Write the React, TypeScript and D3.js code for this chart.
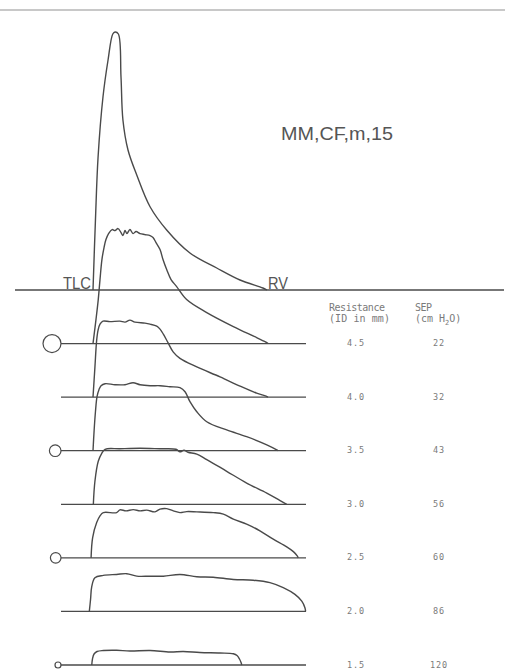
import * as d3 from "d3";

// flow-volume curves: volume in % of VC from TLC (0) to RV (100), flow in L/s
const CURVE_OPEN: [number, number][] = [
  [0, 0], [1.4, 2.8], [2.9, 5.32], [5.7, 7.72], [8.6, 9.2], [11.3, 10.24], [12.6, 10.32],
  [14.5, 10.24], [16, 8.52], [17.1, 6.8], [20, 5.6], [25, 4.6], [32.6, 3.33], [42.1, 2.4],
  [55.4, 1.48], [70.7, 0.88], [84, 0.4], [97.1, 0.08], [99.4, 0],
];
const CURVE_45: [number, number][] = [
  [0, 0], [1.7, 0.96], [3, 1.76], [4, 2.56], [5.1, 3.36], [6.3, 3.84], [7.4, 4.16], [8.9, 4.4],
  [10.9, 4.56], [12.6, 4.52], [14.3, 4.6], [16, 4.44], [17.1, 4.32], [18.3, 4.52], [19.4, 4.4],
  [21.1, 4.56], [22.9, 4.4], [24.6, 4.48], [26.9, 4.4], [29.7, 4.36], [32.6, 4.32], [34.3, 4.24],
  [36, 4.04], [38.3, 3.76], [40, 3.36], [42.1, 2.96], [44.6, 2.56], [47.8, 2.28], [53.5, 1.76],
  [65, 1.24], [80.2, 0.68], [93.5, 0.24], [99.3, 0.04], [100, 0],
];
const CURVE_40: [number, number][] = [
  [0, 0], [1.1, 1.2], [2.1, 2.28], [2.9, 2.68], [4, 2.92], [5.7, 3.04], [9.7, 3.02], [15.4, 3.04],
  [18.3, 3.0], [21.1, 3.08], [24, 3.0], [29.7, 2.96], [32.6, 2.92], [36.4, 2.84], [38.3, 2.72],
  [40.2, 2.52], [43, 2.16], [45.9, 1.8], [49.7, 1.55], [59.3, 1.21], [72.6, 0.81], [84, 0.44],
  [93.5, 0.16], [98.9, 0.04], [100, 0],
];
const CURVE_35: [number, number][] = [
  [0, 0], [0.6, 0.76], [1.4, 1.56], [2.3, 2.16], [3.4, 2.44], [4.6, 2.6], [6.9, 2.68], [12.6, 2.64],
  [18.3, 2.64], [22.9, 2.72], [26.9, 2.64], [32.6, 2.6], [38.3, 2.6], [44, 2.56], [49.7, 2.52],
  [52.6, 2.36], [55.4, 1.96], [59.3, 1.56], [65, 1.16], [76.4, 0.83], [87.8, 0.56], [99.3, 0.23],
  [105, 0.03], [105.7, 0],
];
const CURVE_30: [number, number][] = [
  [0.2, 0], [1.1, 0.92], [3, 1.72], [5, 2.04], [6.9, 2.2], [15.4, 2.22], [26.9, 2.24], [38.3, 2.22],
  [47.4, 2.2], [49.7, 2.1], [52, 2.16], [54.3, 2.08], [59.3, 2.01], [65, 1.79], [76.4, 1.32],
  [87.8, 0.85], [99.3, 0.45], [106.9, 0.15], [110.7, 0],
];
const CURVE_25: [number, number][] = [
  [-1.1, 0], [-0.2, 0.81], [2.1, 1.41], [4, 1.68], [5.9, 1.81], [13.5, 1.81], [15.4, 1.92],
  [18.9, 1.88], [23, 1.93], [26.9, 1.88], [30.7, 1.91], [35.4, 1.84], [38.3, 1.95], [42.1, 1.97],
  [45.9, 1.88], [49.7, 1.81], [53.5, 1.85], [59.3, 1.84], [68.7, 1.81], [74.5, 1.75], [80.2, 1.55],
  [87.8, 1.35], [95.4, 1.08], [103, 0.75], [110.7, 0.44], [114.5, 0.25], [116.7, 0.08], [117.3, 0],
];
const CURVE_20: [number, number][] = [
  [-2.1, 0], [-1.4, 0.48], [-0.7, 1.0], [1.1, 1.35], [5.9, 1.44], [13.5, 1.48], [19.3, 1.51],
  [25, 1.41], [32.6, 1.41], [40.2, 1.41], [49.7, 1.48], [59.3, 1.39], [68.7, 1.37], [80.2, 1.28],
  [91.6, 1.25], [101.1, 1.15], [108.7, 0.95], [115.4, 0.68], [119.3, 0.41], [121.1, 0.15], [121.5, 0],
];
const CURVE_15: [number, number][] = [
  [-0.7, 0], [-0.3, 0.24], [0.6, 0.44], [2.3, 0.54], [5.9, 0.58], [13.5, 0.59], [21.1, 0.56],
  [32.6, 0.58], [44, 0.52], [51.6, 0.54], [61.1, 0.5], [72.6, 0.48], [80.2, 0.45], [82.3, 0.38],
  [83.7, 0.24], [84.6, 0.1], [85, 0],
];

const RESISTANCE = ["4.5", "4.0", "3.5", "3.0", "2.5", "2.0", "1.5"];
const SEP = ["22", "32", "43", "56", "60", "86", "120"];
const CURVES = [CURVE_45, CURVE_40, CURVE_35, CURVE_30, CURVE_25, CURVE_20, CURVE_15];

// layout
const W = 505;
const H = 669;
const INK = "#4a4a4a";
const TYPE = "#7a7a7a";
const MONO = "'DejaVu Sans Mono', 'Liberation Mono', monospace";
const SANS = "'Liberation Sans', Arial, sans-serif";
const ORIFICE_R: Record<string, number> = { "4.5": 9, "3.5": 5.8, "2.5": 5.3, "1.5": 3 };

export default function App() {
  const x = d3.scaleLinear().domain([0, 100]).range([93, 268]);
  const rowY = d3.scalePoint<string>().domain(["open", ...RESISTANCE]).range([290, 665]);

  const lineFor = (base: number) => {
    const y = d3.scaleLinear().domain([0, 10]).range([base, base - 250]);
    return d3.line<[number, number]>().x(d => x(d[0])).y(d => y(d[1])).curve(d3.curveCatmullRom.alpha(0.5));
  };

  const y0 = rowY("open")!;

  return (
    <div style={{ position: "absolute", left: 0, top: 0, width: W, height: H, background: "#fff" }}>
      <svg width={W} height={H} style={{ display: "block" }}>
        <line x1={0} x2={W} y1={10} y2={10} stroke="#c8c8c8" strokeWidth={2} />

        {/* unrestricted curve */}
        <line x1={15} x2={504} y1={y0} y2={y0} stroke={INK} strokeWidth={1.3} />
        <path d={lineFor(y0)(CURVE_OPEN) ?? ""} fill="none" stroke={INK} strokeWidth={1.4} strokeLinejoin="round" />
        <text x={63} y={288.5} fontFamily={SANS} fontSize={17} fill="#555" textLength={28} lengthAdjust="spacingAndGlyphs">TLC</text>
        <text x={268} y={288.5} fontFamily={SANS} fontSize={17} fill="#555" textLength={20} lengthAdjust="spacingAndGlyphs">RV</text>
        <text x={281} y={140} fontFamily={SANS} fontSize={18.5} fill="#555" textLength={112} lengthAdjust="spacingAndGlyphs">MM,CF,m,15</text>

        {/* column headers */}
        <g fontFamily={MONO} fontSize={10} fill={TYPE}>
          <text x={329} y={311} textLength={56}>Resistance</text>
          <text x={329} y={321.5} textLength={61}>(ID in mm)</text>
          <text x={415} y={311} textLength={17}>SEP</text>
          <text x={415} y={321.5}>
            (cm H<tspan dy={3} fontSize={7}>2</tspan><tspan dy={-3}>O)</tspan>
          </text>
        </g>

        {RESISTANCE.map((r, i) => {
          const base = rowY(r)!;
          const rad = ORIFICE_R[r];
          return (
            <g key={r}>
              <line x1={61} x2={306} y1={base} y2={base} stroke={INK} strokeWidth={1.3} />
              {rad && <circle cx={61 - rad} cy={base} r={rad} fill="#fff" stroke={INK} strokeWidth={1.2} />}
              <path d={lineFor(base)(CURVES[i]) ?? ""} fill="none" stroke={INK} strokeWidth={1.4} strokeLinejoin="round" />
              <text x={356} y={base + 2.5} textAnchor="middle" fontFamily={MONO} fontSize={8.5} fill={TYPE} letterSpacing={0.8}>{r}</text>
              <text x={439} y={base + 2.5} textAnchor="middle" fontFamily={MONO} fontSize={8.5} fill={TYPE} letterSpacing={0.8}>{SEP[i]}</text>
            </g>
          );
        })}
      </svg>
    </div>
  );
}
